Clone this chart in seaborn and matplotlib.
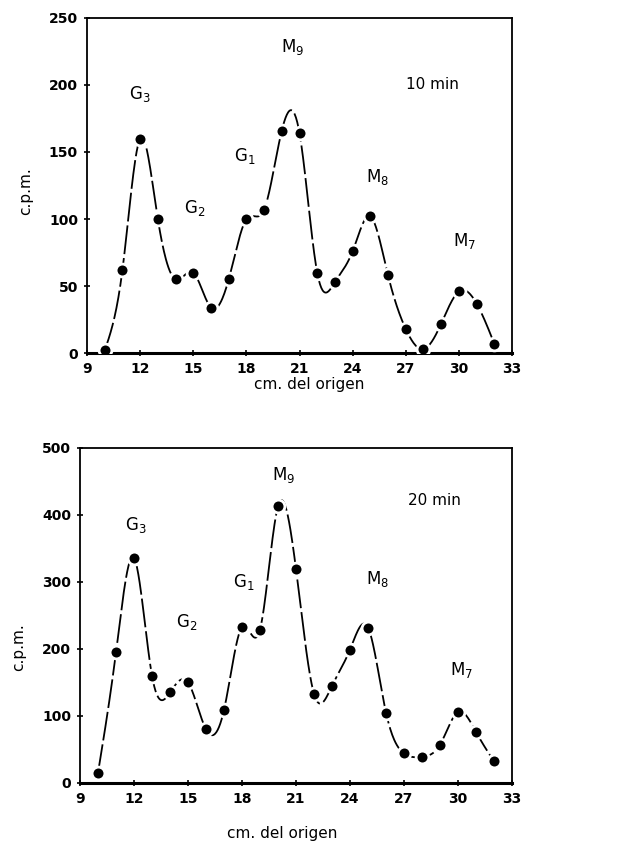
import numpy as np
import pandas as pd
import matplotlib
matplotlib.use("Agg")
import matplotlib.pyplot as plt
import seaborn as sns

sns.set_theme(style="white")
plt.rcParams["font.family"] = ["DejaVu Sans"]
plt.rcParams["mathtext.fontset"] = "dejavusans"
plt.rcParams["text.color"] = "black"

# Distance from origin (cm) of each sampled fraction
distance = list(range(10, 33))

# Radioactivity (c.p.m.) per fraction after 10 and 20 minutes
cpm_10 = [2, 62, 160, 100, 55, 60, 34, 55, 100, 107, 166, 164,
          60, 53, 76, 102, 58, 18, 3, 22, 46, 37, 7]
cpm_20 = [15, 195, 336, 160, 135, 150, 80, 109, 233, 229, 413, 319,
          133, 145, 199, 232, 105, 44, 39, 57, 106, 76, 32]

# Peak labels: (text, x, y) for each panel
peaks_10 = [("G$_3$", 12.0, 193), ("G$_2$", 15.1, 108), ("G$_1$", 17.9, 147),
            ("M$_9$", 20.6, 228), ("M$_8$", 25.4, 131), ("M$_7$", 30.3, 84)]
peaks_20 = [("G$_3$", 12.1, 385), ("G$_2$", 14.9, 240), ("G$_1$", 18.1, 300),
            ("M$_9$", 20.3, 460), ("M$_8$", 25.5, 305), ("M$_7$", 30.2, 168)]

x_ticks = [9, 12, 15, 18, 21, 24, 27, 30, 33]


def natural_spline(x, y, n=600):
    """Smooth curve through the measured points (natural cubic spline)."""
    x = np.asarray(x, float)
    y = np.asarray(y, float)
    h = np.diff(x)
    m = len(x)
    A = np.zeros((m, m))
    b = np.zeros(m)
    A[0, 0] = A[-1, -1] = 1.0
    for i in range(1, m - 1):
        A[i, i - 1] = h[i - 1]
        A[i, i] = 2 * (h[i - 1] + h[i])
        A[i, i + 1] = h[i]
        b[i] = 3 * ((y[i + 1] - y[i]) / h[i] - (y[i] - y[i - 1]) / h[i - 1])
    c = np.linalg.solve(A, b)
    bb = (np.diff(y) / h) - h * (2 * c[:-1] + c[1:]) / 3
    d = np.diff(c) / (3 * h)
    xs = np.linspace(x[0], x[-1], n)
    idx = np.clip(np.searchsorted(x, xs) - 1, 0, m - 2)
    dx = xs - x[idx]
    ys = y[idx] + bb[idx] * dx + c[idx] * dx ** 2 + d[idx] * dx ** 3
    return xs, ys


fig = plt.figure(figsize=(6.37, 8.51), dpi=100)
ax1 = fig.add_axes([0.1366, 0.585, 0.6672, 0.394])
ax2 = fig.add_axes([0.1256, 0.080, 0.6782, 0.3936])

panels = [
    (ax1, cpm_10, peaks_10, "10 min", (27.0, 200), 250, [0, 50, 100, 150, 200, 250]),
    (ax2, cpm_20, peaks_20, "20 min", (27.2, 422), 500, [0, 100, 200, 300, 400, 500]),
]

for ax, cpm, peaks, tag, tag_pos, ymax, yticks in panels:
    xs, ys = natural_spline(distance, cpm)
    curve = pd.DataFrame({"x": xs, "y": ys})
    pts = pd.DataFrame({"x": distance, "y": cpm})
    sns.lineplot(data=curve, x="x", y="y", ax=ax, color="black",
                 linewidth=1.3, sort=False, zorder=2)
    ax.lines[-1].set_dashes((16, 2.2))
    sns.scatterplot(data=pts, x="x", y="y", ax=ax, color="black", s=85,
                    edgecolor="white", linewidth=2.0, zorder=3)
    for txt, px, py in peaks:
        ax.text(px, py, txt, ha="center", va="center", fontsize=12, color="black")
    ax.text(tag_pos[0], tag_pos[1], tag, ha="left", va="center", fontsize=11,
            color="black")

    ax.set_xlim(9, 33)
    ax.set_ylim(0, ymax)
    ax.set_xticks(x_ticks)
    ax.set_yticks(yticks)
    ax.set_xlabel("")
    ax.set_ylabel("")
    ax.tick_params(direction="inout", length=5, width=1.2, labelsize=10,
                   colors="black", pad=4, left=True, bottom=True)
    for lab in ax.get_xticklabels() + ax.get_yticklabels():
        lab.set_fontweight("bold")
    for side, sp in ax.spines.items():
        sp.set_visible(True)
        sp.set_color("black")
        sp.set_linewidth(1.3)
    ax.spines["bottom"].set_linewidth(2.2)

fig.text(0.485, 0.548, "cm. del origen", ha="center", va="center", fontsize=11)
fig.text(0.443, 0.021, "cm. del origen", ha="center", va="center", fontsize=11)
fig.text(0.040, 0.775, "c.p.m.", ha="center", va="center", rotation=90, fontsize=11)
fig.text(0.030, 0.240, "c.p.m.", ha="center", va="center", rotation=90, fontsize=11)

fig.savefig("out.png", dpi=100, facecolor="white")
